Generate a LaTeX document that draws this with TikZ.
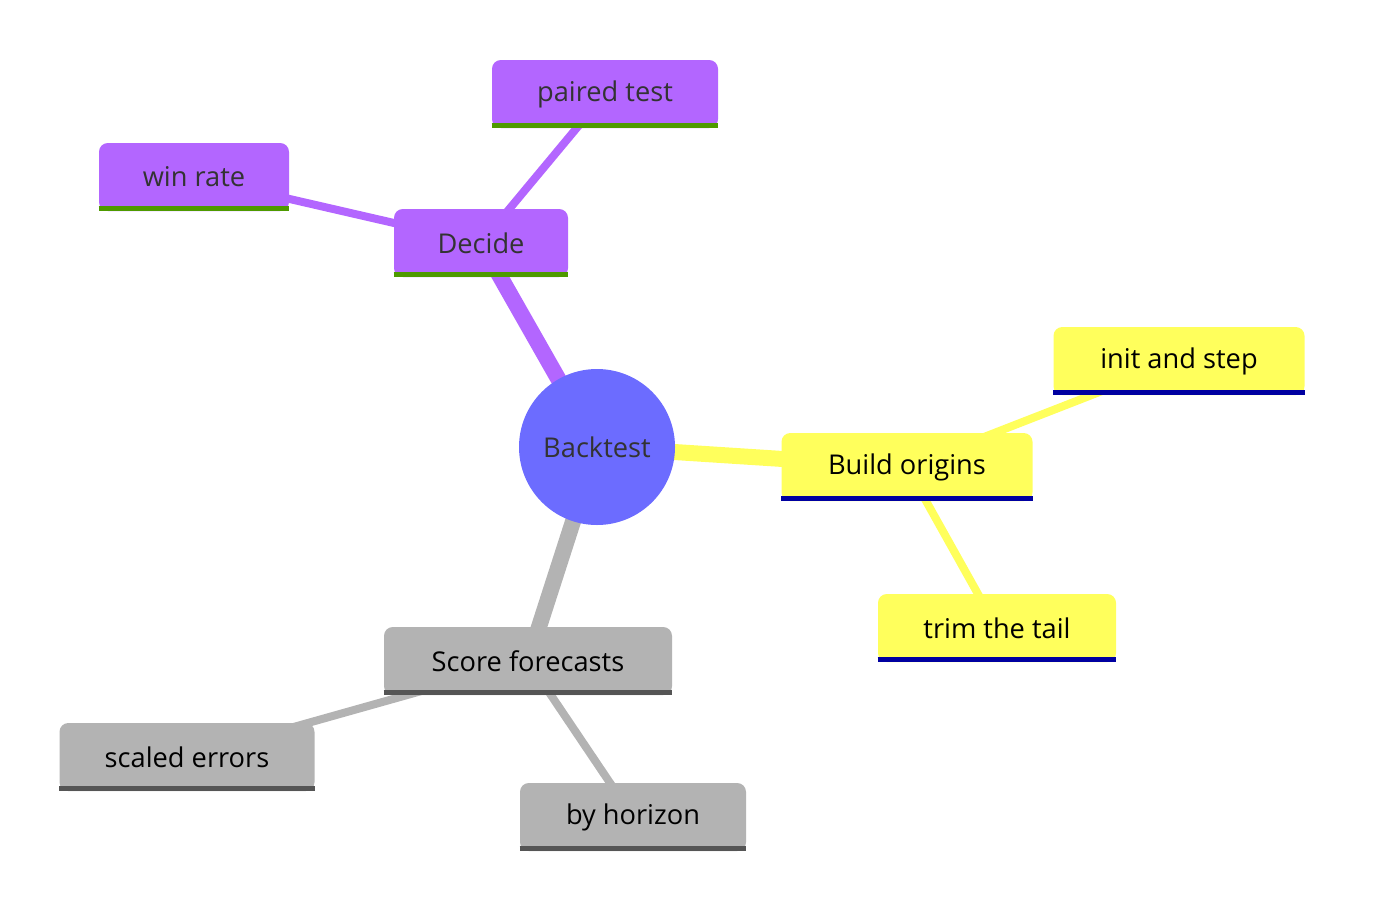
\documentclass[tikz,border=0pt]{standalone}
\usepackage{fontspec}
\setmainfont{Open Sans}
\usetikzlibrary{positioning, backgrounds}
\definecolor{rootblue}{HTML}{6C6CFF}
\definecolor{violet}{HTML}{B366FF}
\definecolor{lemon}{HTML}{FFFF5C}
\definecolor{ash}{HTML}{B3B3B3}
\definecolor{leaf}{HTML}{4E9A00}
\definecolor{navy}{HTML}{0000A0}
\definecolor{slate}{HTML}{555555}
\definecolor{ink}{HTML}{333333}
\tikzset{
  box/.style={rectangle, rounded corners=5pt, inner sep=0pt, minimum height=68*0.02cm, font=\fontsize{15.5}{18}\selectfont},
  decide/.style={box, fill=violet, text=ink},
  build/.style={box, fill=lemon, text=black},
  score/.style={box, fill=ash, text=black},
  trunk/.style={line width=16*0.02cm},
  twig/.style={line width=8*0.02cm},
}
\newcommand{\baseline}[2]{\draw[line width=5*0.02cm, #2] ([yshift=2.5*0.02cm]#1.south west) -- ([yshift=2.5*0.02cm]#1.south east);}
\begin{document}
\begin{tikzpicture}[x=0.02cm, y=-0.02cm]
    \useasboundingbox (0,0) rectangle (1382,920);
    % nodes
    \node[circle, fill=rootblue, text=ink, minimum size=156*0.02cm, font=\fontsize{15.5}{18}\selectfont] (root) at (597,447) {Backtest};
    \node[decide, minimum width=174*0.02cm] (decide) at (481,243) {Decide};
    \node[decide, minimum width=226*0.02cm] (paired) at (605,94) {paired test};
    \node[decide, minimum width=190*0.02cm] (winrate) at (194,177) {win rate};
    \node[build, minimum width=251*0.02cm] (origins) at (907,467) {Build origins};
    \node[build, minimum width=251*0.02cm] (initstep) at (1179,361) {init and step};
    \node[build, minimum width=238*0.02cm] (trim) at (997,628) {trim the tail};
    \node[score, minimum width=288*0.02cm] (scorefc) at (528,661) {Score forecasts};
    \node[score, minimum width=255*0.02cm] (scaled) at (187,757) {scaled errors};
    \node[score, minimum width=226*0.02cm] (horizon) at (633,817) {by horizon};
    % underlines
    \baseline{decide}{leaf}
    \baseline{paired}{leaf}
    \baseline{winrate}{leaf}
    \baseline{origins}{navy}
    \baseline{initstep}{navy}
    \baseline{trim}{navy}
    \baseline{scorefc}{slate}
    \baseline{scaled}{slate}
    \baseline{horizon}{slate}
    % edges
    \begin{scope}[on background layer]
        \draw[trunk, violet] (root.center) -- (decide.center);
        \draw[trunk, lemon] (root.center) -- (origins.center);
        \draw[trunk, ash] (root.center) -- (scorefc.center);
        \draw[twig, violet] (decide.center) -- (paired.center);
        \draw[twig, violet] (decide.center) -- (winrate.center);
        \draw[twig, lemon] (origins.center) -- (initstep.center);
        \draw[twig, lemon] (origins.center) -- (trim.center);
        \draw[twig, ash] (scorefc.center) -- (scaled.center);
        \draw[twig, ash] (scorefc.center) -- (horizon.center);
    \end{scope}
\end{tikzpicture}
\end{document}
